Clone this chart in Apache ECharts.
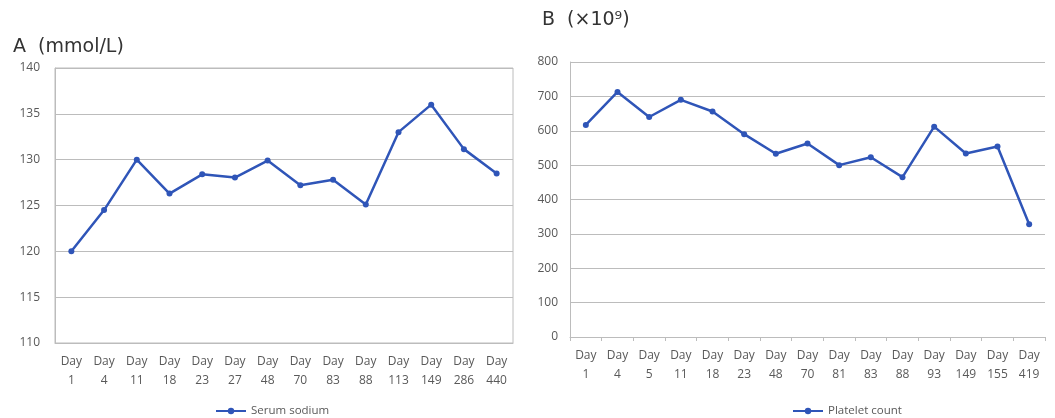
<!DOCTYPE html>
<html><head><meta charset="utf-8">
<script src="https://cdn.jsdelivr.net/npm/echarts@6/dist/echarts.min.js"></script>
<style>html,body{margin:0;padding:0;background:#fff}#c{width:1055px;height:418px}</style>
</head><body><div id="c"></div>
<script>
const catsA = ["1","4","11","18","23","27","48","70","83","88","113","149","286","440"];
const sodium = [120,124.5,130,126.3,128.4,128.05,129.9,127.2,127.8,125.1,133,136,131.15,128.5];
const catsB = ["1","4","5","11","18","23","48","70","81","83","88","93","149","155","419"];
const platelet = [617,713,640,690,656,590,533,563,500,523,465,612,534,554,328];
const ticksA = {min:110,max:140,interval:5};
const ticksB = {min:0,max:800,interval:100};

const FONT = '"Open Sans", "Noto Sans", sans-serif';
const TFONT = '"DejaVu Sans", "Noto Sans", sans-serif';
const TXT = '#595959';
const GRID = '#bcbcbc';
const BLUE = '#2f55b8';

const chart = echarts.init(document.getElementById('c'));
function xAx(idx, cats, ticks){
  return {type:'category', gridIndex:idx, data:cats.map(c=>'Day\n'+c), boundaryGap:true,
    axisLine:{show:true, lineStyle:{color:GRID, width:1}},
    axisTick:{show:ticks, length:4, lineStyle:{color:GRID}},
    axisLabel:{interval:0, color:TXT, fontSize:12, fontFamily:FONT, lineHeight:19, margin:9}};
}
function yAx(idx, t, margin){
  return {type:'value', gridIndex:idx, min:t.min, max:t.max, interval:t.interval,
    axisLine:{show:true, lineStyle:{color:GRID}}, axisTick:{show:false},
    splitLine:{lineStyle:{color:GRID, width:1.2}},
    axisLabel:{color:TXT, fontSize:12, fontFamily:FONT, margin:margin}};
}
chart.setOption({
  animation:false,
  title:[
    {text:'A  (mmol/L)', left:8, top:33, textStyle:{fontSize:19, fontWeight:'normal', color:'#333', fontFamily:TFONT}},
    {text:'B  (×10⁹)', left:537, top:6, textStyle:{fontSize:19, fontWeight:'normal', color:'#333', fontFamily:TFONT}}
  ],
  grid:[
    {left:55, top:68, width:458, height:275, show:true, borderColor:GRID, borderWidth:1},
    {left:570, top:62, width:475, height:275}
  ],
  xAxis:[xAx(0, catsA, false), xAx(1, catsB, true)],
  yAxis:[yAx(0, ticksA, 15), yAx(1, ticksB, 12)],
  legend:[
    {data:['Serum sodium'], left:210, top:400, itemWidth:30, itemHeight:8, itemGap:2,
      textStyle:{color:TXT, fontSize:11.5, fontFamily:FONT}},
    {data:['Platelet count'], left:787, top:400, itemWidth:30, itemHeight:8,
      textStyle:{color:TXT, fontSize:11.5, fontFamily:FONT}}
  ],
  series:[
    {name:'Serum sodium', type:'line', xAxisIndex:0, yAxisIndex:0, data:sodium,
      color:BLUE, lineStyle:{width:2.5, color:BLUE}, symbol:'circle', symbolSize:6,
      itemStyle:{color:BLUE}},
    {name:'Platelet count', type:'line', xAxisIndex:1, yAxisIndex:1, data:platelet,
      color:BLUE, lineStyle:{width:2.5, color:BLUE}, symbol:'circle', symbolSize:6,
      itemStyle:{color:BLUE}}
  ]
});
</script></body></html>
